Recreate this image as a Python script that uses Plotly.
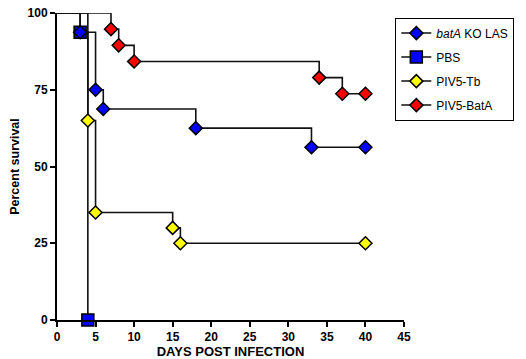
import plotly.graph_objects as go

# Kaplan-Meier data (day, percent survival)
batA_days = [0, 3, 5, 6, 18, 33, 40]
batA_surv = [100, 93.75, 75, 68.75, 62.5, 56.25, 56.25]

pbs_days = [0, 3, 4]
pbs_surv = [100, 93.75, 0]

tb_days = [0, 4, 5, 15, 16, 40]
tb_surv = [100, 65, 35, 30, 25, 25]

bata_days = [0, 7, 8, 10, 34, 37, 40]
bata_surv = [100, 94.74, 89.47, 84.21, 78.95, 73.68, 73.68]

x_ticks = [0, 5, 10, 15, 20, 25, 30, 35, 40, 45]
y_ticks = [0, 25, 50, 75, 100]

series = [
    ("<i>batA</i> KO LAS", batA_days, batA_surv, "#0000ff", "diamond", 10),
    ("PBS", pbs_days, pbs_surv, "#0000ff", "square", 12),
    ("PIV5-Tb", tb_days, tb_surv, "#ffff00", "diamond", 10),
    ("PIV5-BatA", bata_days, bata_surv, "#ff0000", "diamond", 10),
]

FONT = "Liberation Sans, Arial, sans-serif"
LINE_COL = "#111111"

fig = go.Figure()

# step lines
for name, d, s, c, sym, sz in series:
    fig.add_trace(go.Scatter(x=d, y=s, mode="lines", line=dict(color=LINE_COL, width=1.6, shape="hv"),
                             showlegend=False, hoverinfo="skip", cliponaxis=False))

# markers (PBS first so others draw above it)
marker_order = [1, 2, 3, 0]
for i in marker_order:
    name, d, s, c, sym, sz = series[i]
    fig.add_trace(go.Scatter(x=d[1:], y=s[1:], mode="markers",
                             marker=dict(color=c, symbol=sym, size=sz, line=dict(color="black", width=1.5)),
                             showlegend=False, cliponaxis=False))

# legend entries
for name, d, s, c, sym, sz in series:
    fig.add_trace(go.Scatter(x=[None], y=[None], mode="lines+markers", name=name, legendgroup=name,
                             line=dict(color=LINE_COL, width=1.5),
                             marker=dict(color=c, symbol=sym, size=sz, line=dict(color="black", width=1.5))))

axis_common = dict(showline=True, linewidth=2, linecolor="black", ticks="outside", tickwidth=2,
                   ticklen=5, tickcolor="black", showgrid=False, zeroline=False,
                   tickfont=dict(family=FONT, size=12, color="black", weight="bold"))

fig.update_layout(
    width=526, height=359,
    margin=dict(l=57, r=122, t=13, b=39, autoexpand=False),
    paper_bgcolor="white", plot_bgcolor="white",
    font=dict(family=FONT, color="black"),
    xaxis=dict(range=[0, 45], tickvals=x_ticks, ticktext=[str(v) for v in x_ticks],
               title=dict(text="DAYS POST INFECTION", font=dict(family=FONT, size=13, weight="bold"), standoff=3),
               **axis_common),
    yaxis=dict(range=[0, 100], tickvals=y_ticks, ticktext=[str(v) for v in y_ticks],
               title=dict(text="Percent survival", font=dict(family=FONT, size=12.5, weight="bold"), standoff=5),
               **axis_common),
    legend=dict(x=0.975, y=0.985, xanchor="left", yanchor="top", bordercolor="black", borderwidth=1,
                font=dict(family=FONT, size=12, color="black"), tracegroupgap=5, bgcolor="white"),
)

fig.write_html("out.html")
